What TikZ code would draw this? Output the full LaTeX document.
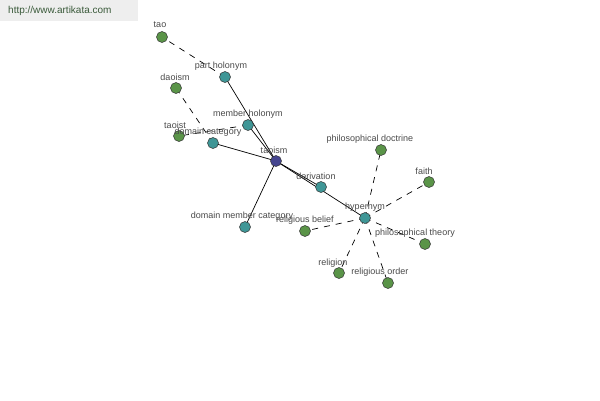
\documentclass[tikz,border=0pt]{standalone}
\usepackage{fontspec}
\setmainfont{Liberation Sans}
\begin{document}
\begin{tikzpicture}[x=1pt,y=-1pt,
  leaf/.style={circle,draw=black!80,line width=0.5pt,fill=leafgreen,minimum size=11pt,inner sep=0pt},
  rel/.style={circle,draw=black!80,line width=0.5pt,fill=relteal,minimum size=11pt,inner sep=0pt},
  hub/.style={circle,draw=black!80,line width=0.5pt,fill=hubblue,minimum size=11pt,inner sep=0pt},
  lbl/.style={text=labelgray,font=\fontsize{9}{10}\selectfont,inner sep=0pt},
  solidedge/.style={draw=black,line width=0.7pt},
  dashedge/.style={draw=black,line width=0.7pt,dash pattern=on 6pt off 6pt}]
\definecolor{leafgreen}{HTML}{5A9448}
\definecolor{relteal}{HTML}{3F9696}
\definecolor{hubblue}{HTML}{45458F}
\definecolor{labelgray}{HTML}{4A4A4A}
\definecolor{headgray}{HTML}{EEEEEE}
\definecolor{headtext}{HTML}{3A5A3A}
\useasboundingbox[fill=white] (0,0) rectangle (600,400);
\fill[headgray] (0,0) rectangle (138,21);
\node[anchor=west,text=headtext,font=\fontsize{10}{12}\selectfont,inner sep=0pt] (head) at (8,11) {http://www.artikata.com};
% nodes
\coordinate (ptao) at (162,37);
\coordinate (ppart) at (225,77);
\coordinate (pdaoism) at (176,88);
\coordinate (pmember) at (248,125);
\coordinate (ptaoist) at (179,136);
\coordinate (pdomcat) at (213,143);
\coordinate (ptaoism) at (276,161);
\coordinate (pphildoc) at (381,150);
\coordinate (pderiv) at (321,187);
\coordinate (pfaith) at (429,182);
\coordinate (phyper) at (365,218);
\coordinate (pdommem) at (245,227);
\coordinate (prelbel) at (305,231);
\coordinate (pphilth) at (425,244);
\coordinate (preligion) at (339,273);
\coordinate (prelord) at (388,283);
% edges
\path[solidedge] (ptaoism) -- (ppart);
\path[solidedge] (ptaoism) -- (pmember);
\path[solidedge] (ptaoism) -- (pdomcat);
\path[solidedge] (ptaoism) -- (pdommem);
\path[solidedge] (ptaoism) -- (pderiv);
\path[solidedge] (ptaoism) -- (phyper);
\path[dashedge] (ppart) -- (ptao);
\path[dashedge] (pmember) -- (ptaoist);
\path[dashedge] (pdomcat) -- (pdaoism);
\path[dashedge] (phyper) -- (pphildoc);
\path[dashedge] (phyper) -- (pfaith);
\path[dashedge] (phyper) -- (prelbel);
\path[dashedge] (phyper) -- (pphilth);
\path[dashedge] (phyper) -- (preligion);
\path[dashedge] (phyper) -- (prelord);
% circles
\node[leaf] (tao) at (ptao) {};
\node[rel] (part) at (ppart) {};
\node[leaf] (daoism) at (pdaoism) {};
\node[rel] (member) at (pmember) {};
\node[leaf] (taoist) at (ptaoist) {};
\node[rel] (domcat) at (pdomcat) {};
\node[hub] (taoism) at (ptaoism) {};
\node[leaf] (phildoc) at (pphildoc) {};
\node[rel] (deriv) at (pderiv) {};
\node[leaf] (faith) at (pfaith) {};
\node[rel] (hyper) at (phyper) {};
\node[rel] (dommem) at (pdommem) {};
\node[leaf] (relbel) at (prelbel) {};
\node[leaf] (philth) at (pphilth) {};
\node[leaf] (religion) at (preligion) {};
\node[leaf] (relord) at (prelord) {};
% labels
\node[lbl] (ltao) at (160,25) {tao};
\node[lbl] (lpart) at (221,66) {part holonym};
\node[lbl] (ldaoism) at (175,77) {daoism};
\node[lbl] (lmember) at (248,114) {member holonym};
\node[lbl] (ltaoist) at (175,125) {taoist};
\node[lbl] (ldomcat) at (208,132) {domain category};
\node[lbl] (ltaoism) at (274,150) {taoism};
\node[lbl] (lphildoc) at (370,139) {philosophical doctrine};
\node[lbl] (lderiv) at (316,176) {derivation};
\node[lbl] (lfaith) at (424,171) {faith};
\node[lbl] (lhyper) at (365,207) {hypernym};
\node[lbl] (ldommem) at (242,216) {domain member category};
\node[lbl] (lrelbel) at (305,220) {religious belief};
\node[lbl] (lphilth) at (415,233) {philosophical theory};
\node[lbl] (lreligion) at (333,263) {religion};
\node[lbl] (lrelord) at (380,272) {religious order};
\end{tikzpicture}
\end{document}
